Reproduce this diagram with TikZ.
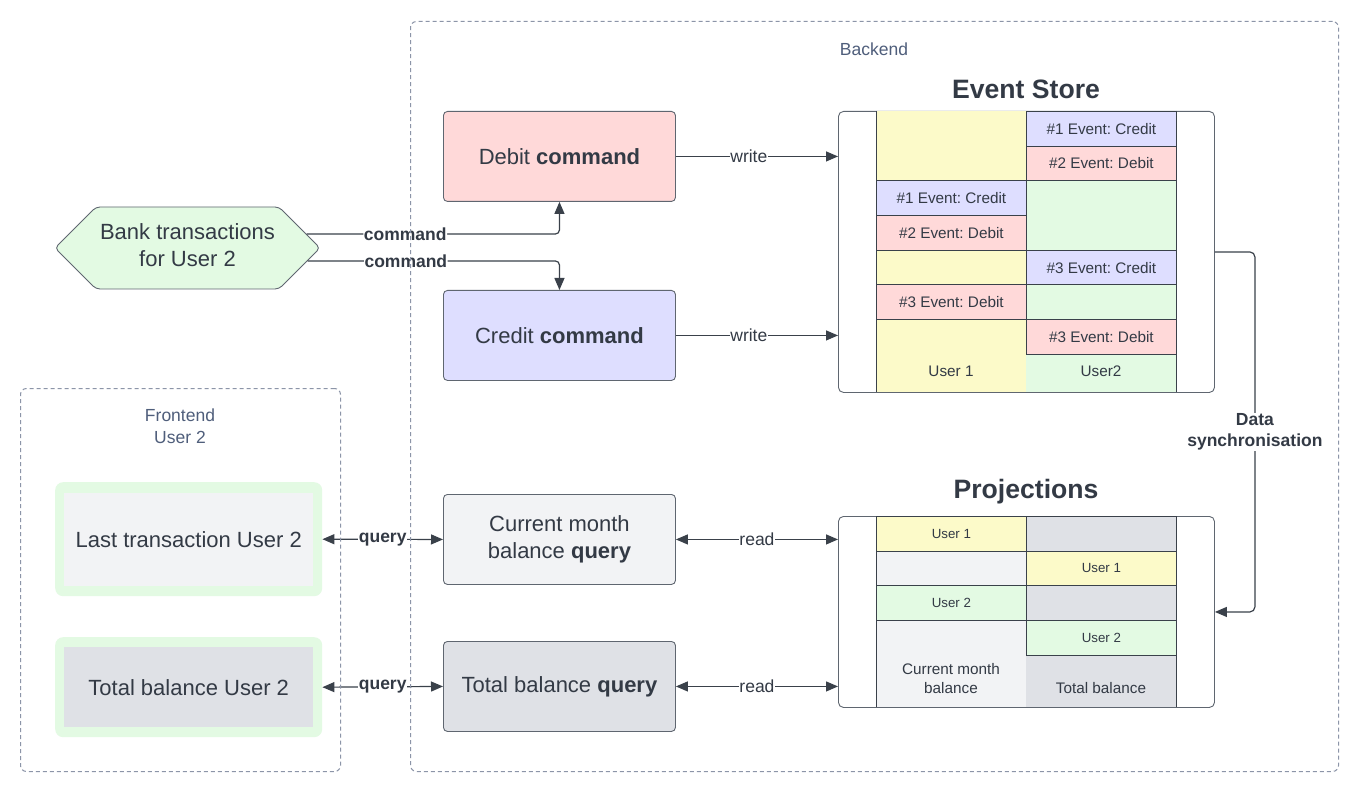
\documentclass[tikz,border=0pt]{standalone}
\usepackage{fontspec}
\setmainfont{Liberation Sans}
\usetikzlibrary{arrows.meta,shapes.symbols,calc}
\frenchspacing
\definecolor{txt}{HTML}{333A45}
\definecolor{lnc}{HTML}{3A414A}
\definecolor{bord}{HTML}{5F6670}
\definecolor{frm}{HTML}{8C95A8}
\definecolor{frmtxt}{HTML}{4F5E7B}
\definecolor{cyel}{HTML}{FCFAC9}
\definecolor{cgrn}{HTML}{E3FAE3}
\definecolor{cblu}{HTML}{DEDEFF}
\definecolor{cred}{HTML}{FFD9D9}
\definecolor{clgr}{HTML}{F2F3F5}
\definecolor{cgry}{HTML}{DFE1E6}
\tikzset{
 box/.style={draw=bord, line width=0.9pt, rounded corners=4pt, minimum width=232pt, minimum height=90pt, inner sep=0pt, align=center, font=\fontsize{22}{27}\selectfont, text=txt, anchor=north west},
 store/.style={draw=bord, line width=0.9pt, rounded corners=5pt, fill=white, minimum width=376pt, anchor=north west, inner sep=0pt},
 colbg/.style={minimum width=150pt, anchor=north west, inner sep=0pt, draw=none},
 cell/.style={draw=lnc, line width=0.8pt, minimum width=150pt, minimum height=34.7pt, inner sep=0pt, anchor=north west, text=txt, font=\fontsize{15.3}{18}\selectfont},
 pcell/.style={cell, font=\fontsize{13.3}{16}\selectfont},
 conn/.style={draw=lnc, line width=1.2pt, -{Triangle[length=12pt,width=10pt]}},
 dconn/.style={draw=lnc, line width=1.2pt, {Triangle[length=12pt,width=10pt]}-{Triangle[length=12pt,width=10pt]}},
 lab/.style={fill=white, inner sep=0.5pt, text=txt, font=\fontsize{17.5}{21}\selectfont},
 blab/.style={fill=white, inner sep=0.5pt, text=txt, align=center, font=\fontsize{17.5}{21}\selectfont\bfseries},
 dframe/.style={draw=frm, line width=1pt, dash pattern=on 4pt off 3pt, rounded corners=6pt, anchor=north west, inner sep=0pt},
 ftxt/.style={text=frmtxt, font=\fontsize{17.5}{22}\selectfont, align=center},
 title/.style={text=txt, font=\fontsize{26.6}{30}\selectfont\bfseries},
 ctxt/.style={text=txt, align=center, inner sep=0pt},
 outerg/.style={fill=cgrn, rounded corners=8pt, minimum width=267pt, anchor=north west, inner sep=0pt},
 innerb/.style={minimum width=249pt, inner sep=0pt, text=txt, font=\fontsize{22}{26}\selectfont},
}
\begin{document}
\begin{tikzpicture}[x=1pt,y=-1pt]
\useasboundingbox (0,0) rectangle (1359,791);
\fill[white] (0,0) rectangle (1359,791);

% labels of frames
\node[ftxt] (backendlbl) at (874,49) {Backend};
\node[ftxt] (frontendlbl) at (180,426) {Frontend\\User 2};

% titles
\node[title] (estitle) at (1026,89) {Event Store};
\node[title] (prtitle) at (1026,492) {Projections};

% command / query boxes
\node[box, fill=cred] (debit) at (443,111) {Debit \textbf{command}};
\node[box, fill=cblu] (credit) at (443,290) {Credit \textbf{command}};
\node[box, fill=clgr] (cmq) at (443,494) {Current month\\balance \textbf{query}};
\node[box, fill=cgry] (tbq) at (443,641) {Total balance \textbf{query}};

% hexagon
\node[signal, signal to=west and east, signal pointer angle=90, draw=bord, line width=0.9pt, fill=cgrn,
  minimum width=265pt, minimum height=82pt, inner sep=0pt, rounded corners=4pt] (hex) at (187.5,248) {};
\node[ctxt, font=\fontsize{22}{27}\selectfont] (hextxt) at (187.5,245) {Bank transactions\\for User 2};

% frontend boxes
\node[outerg, minimum height=114pt] (ltout) at (55,482) {};
\node[innerb, fill=clgr, minimum height=93pt] (lt) at (ltout.center) {Last transaction User 2};
\node[outerg, minimum height=100pt] (tbout) at (55,637) {};
\node[innerb, fill=cgry, minimum height=80pt] (tb) at (tbout.center) {Total balance User 2};

% Event store
\node[store, minimum height=281pt] (es) at (838,111) {};
\node[colbg, fill=cyel, minimum height=281pt] (escol1) at (876,111) {};
\node[colbg, fill=cgrn, minimum height=281pt] (escol2) at (1026,111) {};
\draw[lnc, line width=0.9pt] (escol1.north west) -- (escol1.south west);
\draw[lnc, line width=0.9pt] (escol2.north east) -- (escol2.south east);
\node[cell, fill=cblu] (u1e1) at (876,180.4) {\#1 Event: Credit};
\node[cell, fill=cred] (u1e2) at (876,215.1) {\#2 Event: Debit};
\node[cell, fill=cred] (u1e3) at (876,284.5) {\#3 Event: Debit};
\node[cell, fill=cblu] (u2e1) at (1026,111) {\#1 Event: Credit};
\node[cell, fill=cred] (u2e2) at (1026,145.7) {\#2 Event: Debit};
\node[cell, fill=cblu] (u2e3) at (1026,249.8) {\#3 Event: Credit};
\node[cell, fill=cred] (u2e4) at (1026,319.2) {\#3 Event: Debit};
\node[ctxt, font=\fontsize{15.3}{18}\selectfont] (esu1) at (951,371) {User 1};
\node[ctxt, font=\fontsize{15.3}{18}\selectfont] (esu2) at (1101,371) {User2};

% Projections
\node[store, minimum height=191pt] (pr) at (838,516) {};
\node[colbg, fill=clgr, minimum height=191pt] (prcol1) at (876,516) {};
\node[colbg, fill=cgry, minimum height=191pt] (prcol2) at (1026,516) {};
\draw[lnc, line width=0.9pt] (prcol1.north west) -- (prcol1.south west);
\draw[lnc, line width=0.9pt] (prcol2.north east) -- (prcol2.south east);
\node[pcell, fill=cgry] (p2a) at (1026,516) {};
\node[pcell, fill=cyel] (p1u1) at (876,516) {User 1};
\node[pcell, fill=cgry] (p2c) at (1026,585.4) {};
\node[pcell, fill=cyel] (p2u1) at (1026,550.7) {User 1};
\node[pcell, fill=cgrn] (p1u2) at (876,585.4) {User 2};
\node[pcell, fill=cgrn] (p2u2) at (1026,620.1) {User 2};
\node[ctxt, font=\fontsize{15.3}{19}\selectfont] (prl1) at (951,678.5) {Current month\\balance};
\node[ctxt, font=\fontsize{15.3}{19}\selectfont] (prl2) at (1101,688) {Total balance};

% connectors
\draw[conn] (debit.east) -- node[lab, pos=0.45] {write} (debit.east -| es.west);
\draw[conn] (credit.east) -- node[lab, pos=0.45] {write} (credit.east -| es.west);
\draw[dconn] (cmq.east) -- node[lab] {read} (cmq.east -| pr.west);
\draw[dconn] (tbq.east) -- node[lab] {read} (tbq.east -| pr.west);
\draw[dconn] (ltout.east) -- node[blab] {query} (cmq.west);
\draw[dconn] (tbout.east) -- node[blab] {query} (tbq.west);

\coordinate (h1) at ($(hex.east)+(-14,-14)$);
\coordinate (h2) at ($(hex.east)+(-13,13)$);
\draw[conn, rounded corners=4pt] (h1) -- node[blab, pos=0.39] {command} (h1 -| debit.south) -- (debit.south);
\draw[conn, rounded corners=4pt] (h2) -- node[blab, pos=0.39] {command} (h2 -| credit.north) -- (credit.north);

\draw[conn, rounded corners=5pt] (es.east) -- ++(40,0) |- node[blab, pos=0.25] {Data\\synchronisation} (pr.east);

% frames
\node[dframe, minimum width=928pt, minimum height=750pt] (backend) at (410,21) {};
\node[dframe, minimum width=320pt, minimum height=383pt] (frontend) at (20,388) {};
\end{tikzpicture}
\end{document}
